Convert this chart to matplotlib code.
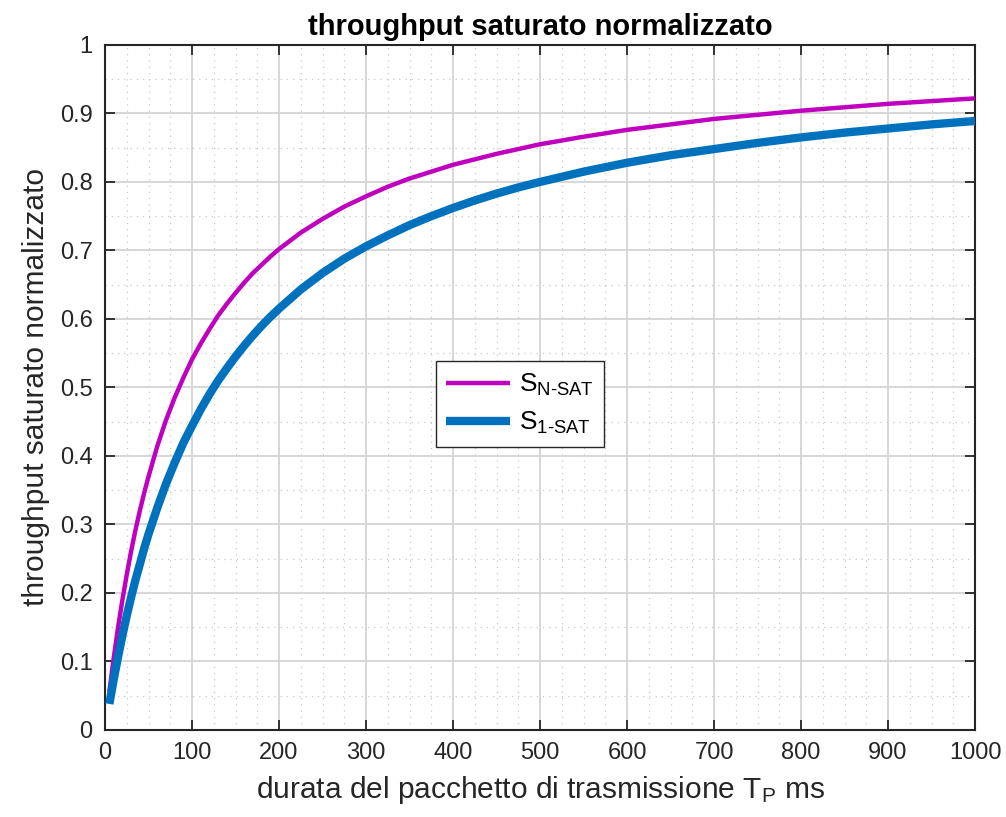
import numpy as np
import matplotlib.pyplot as plt
from matplotlib.ticker import MultipleLocator

# durata del pacchetto (ms)
tp = [5, 10, 15, 20, 25, 30, 35, 40, 45, 50, 60, 70, 80, 90, 100, 110, 120, 130,
      140, 150, 160, 170, 180, 190, 200, 225, 250, 275, 300, 325, 350, 375, 400,
      425, 450, 475, 500, 550, 600, 650, 700, 750, 800, 850, 900, 950, 1000]

# throughput saturato normalizzato
s_nsat = [0.056, 0.105, 0.150, 0.190, 0.227, 0.261, 0.292, 0.320, 0.346, 0.370,
          0.414, 0.452, 0.485, 0.514, 0.541, 0.564, 0.585, 0.605, 0.622, 0.638,
          0.653, 0.667, 0.679, 0.691, 0.702, 0.726, 0.746, 0.764, 0.779, 0.793,
          0.805, 0.815, 0.825, 0.833, 0.841, 0.848, 0.855, 0.866, 0.876, 0.884,
          0.892, 0.898, 0.904, 0.909, 0.914, 0.918, 0.922]
s_1sat = [0.038, 0.074, 0.107, 0.138, 0.167, 0.194, 0.219, 0.242, 0.265, 0.286,
          0.324, 0.359, 0.390, 0.419, 0.444, 0.468, 0.490, 0.510, 0.528, 0.545,
          0.561, 0.576, 0.590, 0.603, 0.615, 0.643, 0.667, 0.688, 0.706, 0.722,
          0.737, 0.750, 0.762, 0.773, 0.783, 0.792, 0.800, 0.815, 0.828, 0.839,
          0.848, 0.857, 0.865, 0.872, 0.878, 0.884, 0.889]

xticks = np.arange(0, 1001, 100)
yticks = np.round(np.arange(0, 1.01, 0.1), 1)
yticklabels = ['0', '0.1', '0.2', '0.3', '0.4', '0.5', '0.6', '0.7', '0.8', '0.9', '1']

plt.rcParams['font.family'] = ['Liberation Sans', 'DejaVu Sans']
plt.rcParams['mathtext.fontset'] = 'custom'
plt.rcParams['mathtext.rm'] = 'Liberation Sans'
plt.rcParams['mathtext.it'] = 'Liberation Sans:italic'
plt.rcParams['mathtext.bf'] = 'Liberation Sans:bold'
txt = '#262626'

fig = plt.figure(figsize=(10.06, 8.17), dpi=100)
ax = fig.add_axes([0.1044, 0.1065, 0.8648, 0.8385])

ax.plot(tp, s_nsat, color='#bf00bf', linewidth=3.2, label=r'S$_{\mathrm{N\text{-}SAT}}$',
        solid_capstyle='butt', solid_joinstyle='round', zorder=3)
ax.plot(tp, s_1sat, color='#0072bd', linewidth=6, label=r'S$_{\mathrm{1\text{-}SAT}}$',
        solid_capstyle='butt', solid_joinstyle='round', zorder=3)

ax.set_xlim(0, 1000)
ax.set_ylim(0, 1)
ax.set_xticks(xticks)
ax.set_yticks(yticks)
ax.set_yticklabels(yticklabels)
ax.xaxis.set_minor_locator(MultipleLocator(25))
ax.yaxis.set_minor_locator(MultipleLocator(0.05))

ax.grid(which='major', color='#d4d4d4', linewidth=1.3, linestyle='-')
ax.grid(which='minor', color='#c8c8c8', linewidth=0.9, linestyle=(0, (1, 4)))
ax.set_axisbelow(True)

ax.tick_params(which='major', direction='in', length=7, width=1.3, top=True, right=True,
               labelsize=17, colors=txt, pad=9)
ax.tick_params(which='minor', length=0)
for s in ax.spines.values():
    s.set_linewidth(1.5)
    s.set_color(txt)

ax.set_title('throughput saturato normalizzato', fontsize=21, fontweight='bold', pad=7)
ax.set_xlabel('durata del pacchetto di trasmissione T$_{\\mathrm{P}}$ ms', fontsize=21.5,
              color=txt, labelpad=7)
ax.set_ylabel('throughput saturato normalizzato', fontsize=21.5, color=txt, labelpad=7)

leg = ax.legend(loc='center', bbox_to_anchor=(0.477, 0.476), fontsize=19, handlelength=2.4,
                handletextpad=0.35, fancybox=False, framealpha=1, edgecolor=txt,
                borderpad=0.4, labelspacing=0.45, borderaxespad=0)
leg.get_frame().set_linewidth(1.0)

fig.savefig('out.png', dpi=100)
